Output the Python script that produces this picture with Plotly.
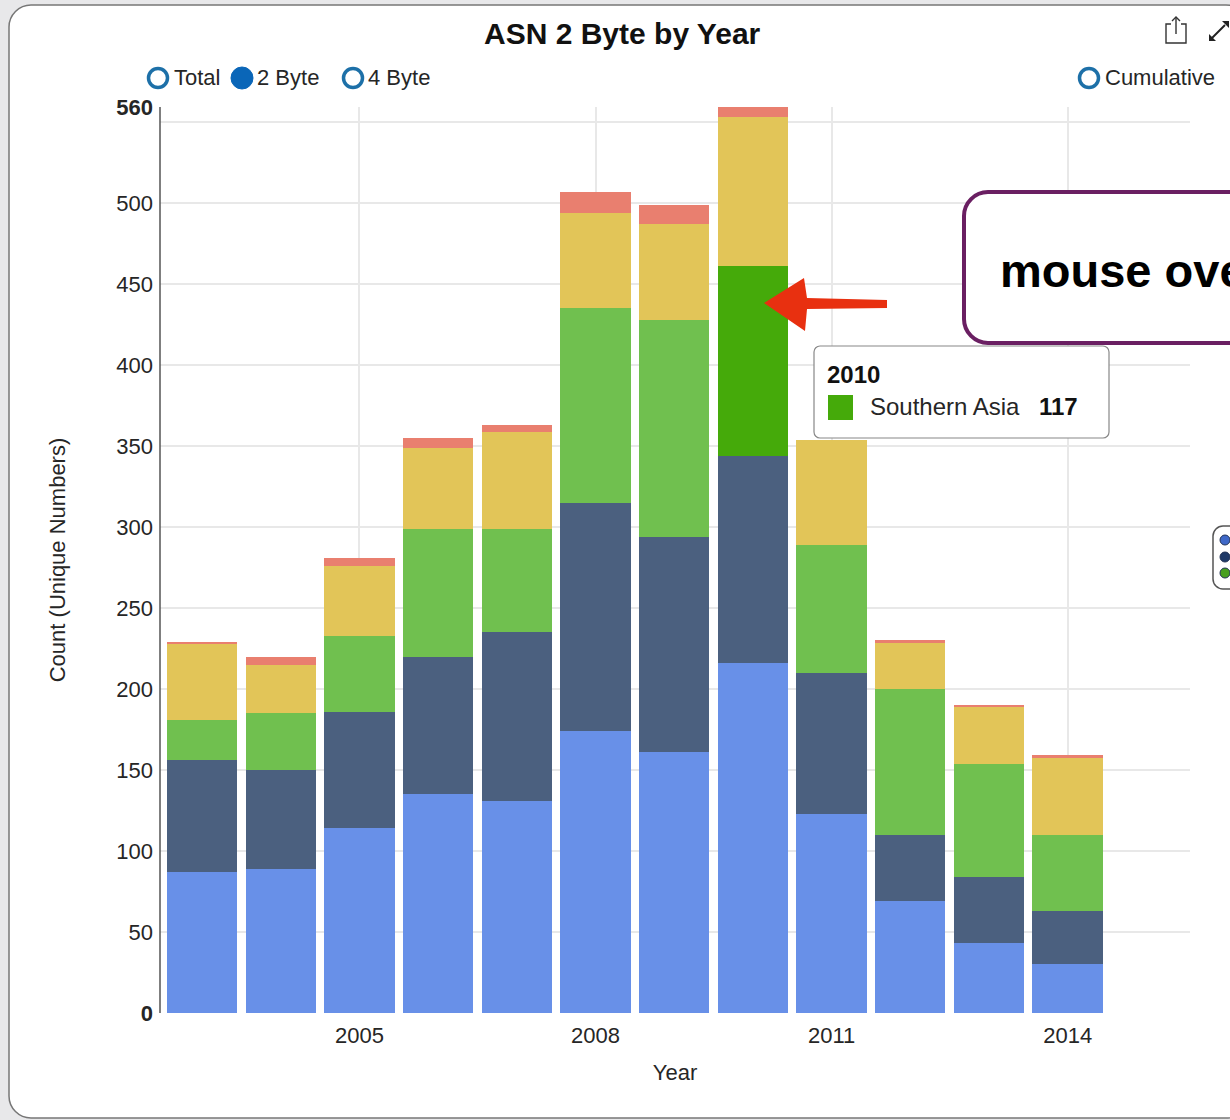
import plotly.graph_objects as go

years = [2003, 2004, 2005, 2006, 2007, 2008, 2009, 2010, 2011, 2012, 2013, 2014]
region_names = ["Eastern Asia", "South-Eastern Asia", "Southern Asia", "Oceania", "Other"]
blue_vals = [87, 89, 114, 135, 131, 174, 161, 216, 123, 69, 43, 30]
navy_vals = [69, 61, 72, 85, 104, 141, 133, 128, 87, 41, 41, 33]
green_vals = [25, 35, 47, 79, 64, 120, 134, 117, 79, 90, 70, 47]
yellow_vals = [47, 30, 43, 50, 60, 59, 59, 92, 65, 29, 35, 48]
red_vals = [1, 5, 5, 6, 4, 13, 12, 8, 0, 1, 1, 1]
colors = ["#6890e8", "#4b607f", "#70c04f", "#e2c558", "#e97f6f"]
highlight_color = "#45aa0a"
highlight_year = 2010
grid_vals = [0, 50, 100, 150, 200, 250, 300, 350, 400, 450, 500, 550]
y_tick_vals = [0, 50, 100, 150, 200, 250, 300, 350, 400, 450, 500, 559.4]
y_tick_text = ["<b>0</b>", "50", "100", "150", "200", "250", "300", "350", "400", "450", "500", "<b>560</b>"]
x_tick_vals = [2005, 2008, 2011, 2014]

W, H = 1230, 1120
L, R, T, B = 160, 1190, 107, 1013
FONT = "Liberation Sans, Arial, sans-serif"
TXT = "#262626"


def px(x):
    return (x - L) / (R - L)


def py(y):
    return (B - y) / (B - T)


def path(points, close=True):
    s = "M " + " L ".join(f"{px(x):.5f},{py(y):.5f}" for x, y in points)
    return s + (" Z" if close else "")


def rounded(x0, y0, x1, y1, r):
    k = r * 0.45
    c = lambda a, b, d, e, f, g: f" C {px(a):.5f},{py(b):.5f} {px(d):.5f},{py(e):.5f} {px(f):.5f},{py(g):.5f}"
    return (f"M {px(x0 + r):.5f},{py(y0):.5f} L {px(x1 - r):.5f},{py(y0):.5f}"
            + c(x1 - k, y0, x1, y0 + k, x1, y0 + r)
            + f" L {px(x1):.5f},{py(y1 - r):.5f}"
            + c(x1, y1 - k, x1 - k, y1, x1 - r, y1)
            + f" L {px(x0 + r):.5f},{py(y1):.5f}"
            + c(x0 + k, y1, x0, y1 - k, x0, y1 - r)
            + f" L {px(x0):.5f},{py(y0 + r):.5f}"
            + c(x0, y0 + k, x0 + k, y0, x0 + r, y0) + " Z")


def shape_path(d, line=None, width=1, fill="rgba(0,0,0,0)", layer="above"):
    return dict(type="path", xref="paper", yref="paper", path=d, layer=layer, fillcolor=fill,
                line=dict(color=line or "rgba(0,0,0,0)", width=width if line else 0))


def circle(cx, cy, r, line, width, fill="#ffffff"):
    return dict(type="circle", xref="paper", yref="paper", x0=px(cx - r), x1=px(cx + r),
                y0=py(cy + r), y1=py(cy - r), fillcolor=fill, line=dict(color=line, width=width))


def label(x, y, text, size, color=TXT, anchor="left"):
    return dict(xref="paper", yref="paper", x=px(x), y=py(y), text=text, showarrow=False,
                xanchor=anchor, yanchor="middle", borderpad=0, font=dict(family=FONT, size=size, color=color))


fig = go.Figure()
series = [blue_vals, navy_vals, green_vals, yellow_vals, red_vals]
for i, (name, vals) in enumerate(zip(region_names, series)):
    marker_colors = [highlight_color if (name == "Southern Asia" and y == highlight_year) else colors[i] for y in years]
    fig.add_trace(go.Bar(x=years, y=vals, name=name, width=0.895, marker=dict(color=marker_colors, line=dict(width=0))))

shapes = [
    shape_path(rounded(9, 5, 1248, 1118, 22), line="#777777", width=1.5, fill="#ffffff", layer="below"),
    dict(type="line", xref="paper", yref="paper", x0=0, x1=0, y0=0, y1=1, line=dict(color="#555555", width=1.5)),
    # radio buttons
    circle(158, 78, 9.5, "#1d70a8", 3.5),
    circle(242, 78, 11, "#0a66b8", 1, fill="#0a66b8"),
    circle(353, 78, 9.5, "#1d70a8", 3.5),
    circle(1089, 78, 9.5, "#1d70a8", 3.5),
    # callout box
    shape_path(rounded(964, 192, 1290, 343, 24), line="#6a1f62", width=4, fill="#ffffff"),
    # arrow
    shape_path(path([(764, 303), (804, 278), (807, 298), (887, 300), (887, 308), (807, 309), (805, 331)]), fill="#e83010"),
    # tooltip
    shape_path(rounded(814, 346, 1109, 438, 6), line="#888888", width=1.2, fill="#ffffff"),
    dict(type="rect", xref="paper", yref="paper", x0=px(828), x1=px(853), y0=py(420), y1=py(395),
         fillcolor=highlight_color, line=dict(width=0)),
    # side legend pill
    shape_path(rounded(1213, 526, 1270, 589, 10), line="#555555", width=1.5, fill="#ffffff"),
    circle(1225, 540, 5, "#223355", 1, fill="#3f68c8"),
    circle(1225, 557, 5, "#223355", 1, fill="#1f3a68"),
    circle(1225, 573, 5, "#223355", 1, fill="#48a020"),
    # share icon
    shape_path(path([(1171, 24), (1166, 24), (1166, 43), (1186, 43), (1186, 24), (1181, 24)], close=False), line="#333333", width=1.4),
    shape_path(path([(1176, 34), (1176, 17)], close=False), line="#333333", width=1.4),
    shape_path(path([(1172, 21), (1176, 17), (1180, 21)], close=False), line="#333333", width=1.4),
    # expand icon
    shape_path(path([(1212, 38), (1225, 25)], close=False), line="#222222", width=2),
    shape_path(path([(1209, 41), (1209, 34), (1216, 41)]), fill="#222222"),
    shape_path(path([(1229, 21), (1222, 21), (1229, 28)]), fill="#222222"),
]

annotations = [
    label(622, 33, "<b>ASN 2 Byte by Year</b>", 30, "#111111", "center"),
    label(173, 78, "Total", 22),
    label(256, 78, "2 Byte", 22),
    label(367, 78, "4 Byte", 22),
    label(1104, 78, "Cumulative", 22),
    label(999, 270, "<b>mouse over</b>", 47, "#000000"),
    label(826, 375, f"<b>{highlight_year}</b>", 24, "#111111"),
    label(869, 406, "Southern Asia", 24),
    label(1038, 406, "<b>117</b>", 24, "#111111"),
]

fig.update_layout(
    width=W, height=H, autosize=False, barmode="stack", bargap=0.1,
    margin=dict(l=L, r=W - R, t=T, b=H - B, pad=0),
    paper_bgcolor="#e8e8ea", plot_bgcolor="rgba(0,0,0,0)",
    font=dict(family=FONT, size=22, color=TXT),
    showlegend=False, shapes=shapes, annotations=annotations,
    xaxis=dict(range=[2002.465, 2015.555], tickmode="array", tickvals=x_tick_vals, showgrid=True,
               gridcolor="#e8e8e8", gridwidth=1.5, zeroline=False, showline=False, ticks="",
               tickfont=dict(size=22), ticklabelstandoff=7,
               title=dict(text="Year", font=dict(size=22), standoff=17)),
    yaxis=dict(range=[0, 559.4], tickmode="array", tickvals=y_tick_vals, ticktext=y_tick_text,
               showgrid=False, zeroline=False, showline=False, ticks="", tickfont=dict(size=22),
               ticklabelstandoff=6,
               minor=dict(tickmode="array", tickvals=grid_vals, showgrid=True, gridcolor="#e8e8e8", gridwidth=1.5, ticks=""),
               title=dict(text="Count (Unique Numbers)", font=dict(size=22), standoff=44)),
)

fig.write_html("out.html", config={"displayModeBar": False},
               post_script="document.body.style.margin='0';document.body.style.overflow='hidden';")
